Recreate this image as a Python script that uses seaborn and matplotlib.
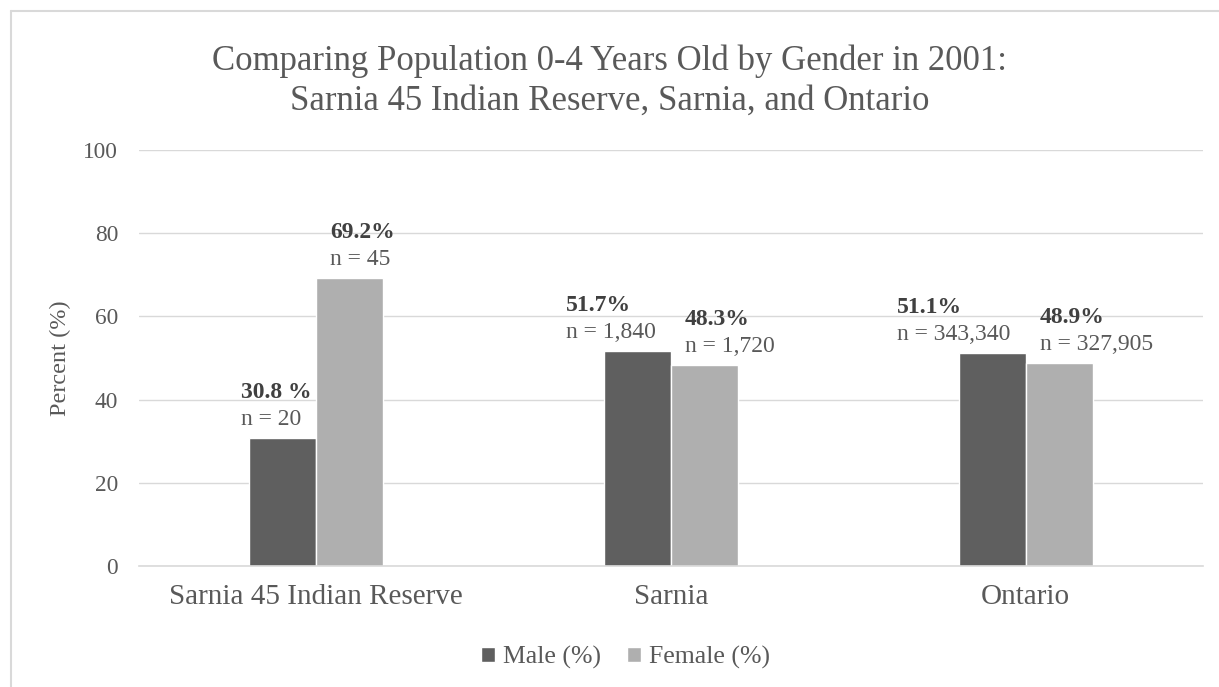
import pandas as pd
import matplotlib.pyplot as plt
import seaborn as sns
from matplotlib.lines import Line2D
from matplotlib.patches import Patch

# chart data
categories = ["Sarnia 45 Indian Reserve", "Sarnia", "Ontario"]
genders = ["Male (%)", "Female (%)"]
male_pct = [30.8, 51.7, 51.1]
female_pct = [69.2, 48.3, 48.9]
male_n = [20, 1840, 343340]
female_n = [45, 1720, 327905]
male_labels = ["30.8 %", "51.7%", "51.1%"]
female_labels = ["69.2%", "48.3%", "48.9%"]

title = ("Comparing Population 0-4 Years Old by Gender in 2001:\n"
         "Sarnia 45 Indian Reserve, Sarnia, and Ontario")

colors = ["#5f5f5f", "#afafaf"]
text_gray = "#595959"
grid_gray = "#d9d9d9"

sns.set_style("white")
plt.rcParams['font.family'] = ['Liberation Serif', 'DejaVu Serif']

df = pd.DataFrame({
    'region': categories * 2,
    'gender': [genders[0]] * len(categories) + [genders[1]] * len(categories),
    'pct': male_pct + female_pct,
})

fig = plt.figure(figsize=(12.19, 6.87), dpi=100)
ax = fig.add_axes([0.114, 0.176, 0.873, 0.606])

sns.barplot(data=df, x='region', y='pct', hue='gender', palette=colors,
            width=0.378, errorbar=None, legend=False, saturation=1, ax=ax)

ax.set_ylim(0, 100)
ax.set_xlim(-0.5, 2.5)
ax.set_yticks(range(0, 101, 20))
ax.yaxis.grid(True, color=grid_gray, lw=1)
ax.set_axisbelow(True)
for side in ['top', 'right', 'left']:
    ax.spines[side].set_visible(False)
ax.spines['bottom'].set_color(grid_gray)
ax.spines['bottom'].set_linewidth(1.2)

ax.tick_params(axis='y', length=0, pad=15, labelsize=16.8, labelcolor=text_gray)
ax.tick_params(axis='x', length=0, pad=13, labelsize=21, labelcolor=text_gray)
ax.set_xlabel('')
ax.set_ylabel('Percent (%)', fontsize=17.5, color=text_gray, labelpad=9)

# bar labels: bold percent above "n = ..."
pct_labels = [male_labels, female_labels]
n_vals = [male_n, female_n]
for i, container in enumerate(ax.containers):
    for j, bar in enumerate(container):
        h = bar.get_height()
        if i == 0:
            x, ha, dx = bar.get_x() + bar.get_width(), 'right', -15
        else:
            x, ha, dx = bar.get_x(), 'left', 14
        n_txt = ax.annotate(f"n = {n_vals[i][j]:,}", xy=(x, h), xytext=(dx, 13),
                            textcoords='offset pixels', ha=ha, va='baseline',
                            fontsize=17, color=text_gray)
        ax.annotate(pct_labels[i][j], xy=(0, h), xycoords=(n_txt, 'data'),
                    xytext=(0, 40), textcoords='offset pixels', ha='left',
                    va='baseline', fontsize=17, fontweight='bold', color='#404040')

handles = [Patch(facecolor=c, label=g) for c, g in zip(colors, genders)]
fig.legend(handles=handles, loc='center', bbox_to_anchor=(0.513, 0.043), ncol=2,
           frameon=False, fontsize=18.5, handlelength=0.55, handleheight=0.55,
           handletextpad=0.3, columnspacing=1.0, labelcolor=text_gray)

fig.text(0.5, 1 - 81 / 687, title, ha='center', va='center', fontsize=25,
         color=text_gray, linespacing=1.25)

# chart border (top and left edges visible)
fig.add_artist(Line2D([11 / 1219, 1], [1 - 11 / 687] * 2, transform=fig.transFigure,
                      color=grid_gray, lw=1.5))
fig.add_artist(Line2D([11 / 1219] * 2, [0, 1 - 11 / 687], transform=fig.transFigure,
                      color=grid_gray, lw=1.5))

fig.savefig('out.png', dpi=100)
